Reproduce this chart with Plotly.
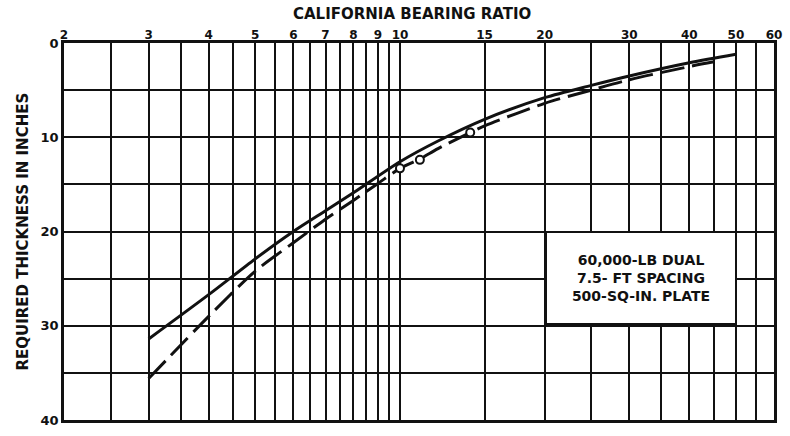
import plotly.graph_objects as go

# California Bearing Ratio vs required thickness
cbr_solid = [3, 4, 5, 6, 7, 8, 10, 12, 15, 20, 25, 30, 40, 50]
thick_solid = [31.4, 26.7, 22.9, 20.0, 17.8, 15.9, 12.6, 10.4, 8.1, 5.8, 4.5, 3.5, 2.1, 1.2]

cbr_dashed = [3, 4, 5, 6, 7, 8, 9, 10, 11, 12, 14, 15, 20, 25, 30, 40, 45]
thick_dashed = [35.6, 29.0, 24.2, 21.2, 18.7, 16.7, 14.9, 13.3, 12.3, 11.2, 9.5, 8.8, 6.4, 5.0, 3.9, 2.5, 2.0]

cbr_points = [10, 11, 14]
thick_points = [13.3, 12.4, 9.5]

x_grid = [2, 2.5, 3, 3.5, 4, 4.5, 5, 5.5, 6, 6.5, 7, 7.5, 8, 8.5, 9, 9.5, 10,
          15, 20, 25, 30, 35, 40, 45, 50, 55, 60]
x_labels = [2, 3, 4, 5, 6, 7, 8, 9, 10, 15, 20, 30, 40, 50, 60]
y_grid = [0, 5, 10, 15, 20, 25, 30, 35, 40]
y_labels = [0, 10, 20, 30, 40]

FONT = "DejaVu Sans"
INK = "#111111"

fig = go.Figure()
fig.add_trace(go.Scatter(x=cbr_solid, y=thick_solid, mode="lines",
                         line=dict(color=INK, width=3, shape="spline", smoothing=0.8),
                         showlegend=False, hoverinfo="skip"))
fig.add_trace(go.Scatter(x=cbr_dashed, y=thick_dashed, mode="lines",
                         line=dict(color=INK, width=3, shape="spline", smoothing=0.8,
                                   dash="24px,8px"),
                         showlegend=False, hoverinfo="skip"))
fig.add_trace(go.Scatter(x=cbr_points, y=thick_points, mode="markers",
                         marker=dict(symbol="circle", size=8, color="white",
                                     line=dict(color=INK, width=2)),
                         showlegend=False, hoverinfo="skip"))

fig.update_xaxes(
    type="log", side="top", range=[0.30103, 1.77815],
    tickmode="array", tickvals=x_grid,
    ticktext=[str(v) if v in x_labels else "" for v in x_grid],
    showgrid=True, gridcolor=INK, gridwidth=1.5,
    showline=True, linecolor=INK, linewidth=2.5, mirror=True,
    ticks="", zeroline=False, ticklabelstandoff=-4,
    tickfont=dict(family=FONT, size=12, color=INK, weight="bold"),
)
fig.update_yaxes(
    range=[40, 0], tickmode="array", tickvals=y_grid,
    ticktext=[str(v) if v in y_labels else "" for v in y_grid],
    showgrid=True, gridcolor=INK, gridwidth=1.5,
    showline=True, linecolor=INK, linewidth=2.5, mirror=True,
    ticks="", zeroline=False,
    tickfont=dict(family=FONT, size=13, color=INK, weight="bold"),
)

fig.add_annotation(
    xref="paper", yref="paper", x=(412 - 64) / 711, y=1.0,
    xanchor="center", yanchor="middle", yshift=29,
    text="CALIFORNIA BEARING RATIO", showarrow=False,
    font=dict(family=FONT, size=15, color=INK, weight="bold"),
)
fig.add_annotation(
    xref="paper", yref="paper", x=(22 - 64) / 711, y=0.5,
    xanchor="center", yanchor="middle", textangle=-90,
    text="REQUIRED THICKNESS IN INCHES", showarrow=False,
    font=dict(family=FONT, size=15, color=INK, weight="bold"),
)
fig.add_annotation(
    xref="x", yref="y", x=1.502, y=24.9,
    text="60,000-LB DUAL<br>7.5- FT SPACING<br>500-SQ-IN. PLATE",
    showarrow=False, align="center",
    font=dict(family=FONT, size=14, color=INK, weight="bold"),
    bgcolor="white", bordercolor=INK, borderwidth=2,
    width=186, height=88,
)

fig.update_layout(
    width=790, height=436,
    margin=dict(l=64, r=15, t=43, b=8),
    paper_bgcolor="white", plot_bgcolor="white",
)

fig.write_html("out.html")
